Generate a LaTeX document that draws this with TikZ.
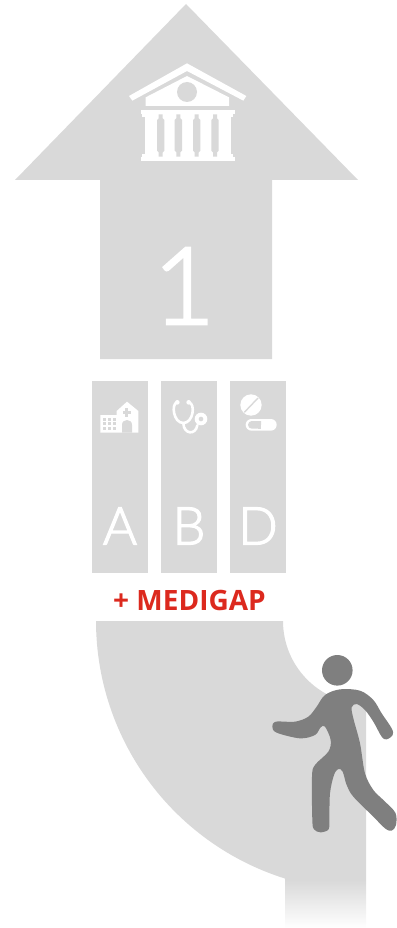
\documentclass[tikz,border=0pt]{standalone}
\usepackage{fontspec}
\usepackage{tikz}
\setmainfont{Open Sans}
\newfontfamily\thinfont[UprightFont=* Light, RawFeature={embolden=2.5}]{Lato}
\definecolor{cband}{HTML}{D9D9D9}
\definecolor{cwalker}{HTML}{7F7F7F}
\definecolor{cred}{HTML}{DC291E}

\begin{document}
\begin{tikzpicture}[
  x=1pt, y=-1pt,
  partbox/.style={fill=cband},
  partlabel/.style={text=white, font=\thinfont\fontsize{52}{52}\selectfont, inner sep=0pt},
  icon/.style={shift={(#1)}, xscale=1/3, yscale=1/3},
  pipe/.style={draw=white, line width=2.6pt, line cap=round}
]
  \useasboundingbox (0,0) rectangle (396,928);

  % Arrow
  \fill[cband] (186,4) -- (358,180) -- (272,180) -- (272,359) -- (100,359) -- (100,180) -- (15,180) -- cycle;
  \node[text=white, font=\thinfont\fontsize{107}{107}\selectfont, inner sep=0pt] (one) at (184,286) {1};

  % Bank
  \begin{scope}[icon={125,60}]
    \fill[white] (186,10) -- (364,108) -- (355,122) -- (186,33) -- (22,122) -- (12,108) -- cycle;
    \fill[white] (186,48) -- (312,112) -- (312,138) -- (62,138) -- (62,112) -- cycle;
    \fill[cband] (186,96) circle (30);
    \fill[white] (47,150) rectangle (330,163);
    \fill[white] (52,163) rectangle (325,172);
    \fill[white] (60,172) rectangle (317,281);
    \fill[white] (52,281) rectangle (325,290);
    \fill[white] (47,290) rectangle (330,303);
    \foreach \gapx in {107,160,215,270} {
      \fill[cband] (\gapx-6,163) -- (\gapx+6,163) -- (\gapx+6,175) -- (\gapx+11,180) -- (\gapx+11,272) -- (\gapx+6,277) -- (\gapx+6,290) -- (\gapx-6,290) -- (\gapx-6,277) -- (\gapx-11,272) -- (\gapx-11,180) -- (\gapx-6,175) -- cycle;
    }
  \end{scope}

  % Parts
  \fill[partbox] (92,381) rectangle (148,573);
  \fill[partbox] (161,381) rectangle (217,573);
  \fill[partbox] (230,381) rectangle (286,573);
  \node[partlabel] (parta) at (120,526) {A};
  \node[partlabel] (partb) at (189,526) {B};
  \node[partlabel] (partd) at (258,526) {D};

  % Hospital
  \begin{scope}[icon={95,395}]
    \fill[white] (16,60) -- (65,60) -- (65,48) -- (96,20) -- (130,48) -- (130,113) -- (16,113) -- cycle;
    \foreach \winx in {25,39,53} {
      \foreach \winy in {68,82,96} {
        \fill[cband] (\winx,\winy) rectangle +(9,9);
      }
    }
    \fill[cband] (81,113) -- (81,90) .. controls (81,70) and (111,70) .. (111,90) -- (111,113) -- cycle;
    \fill[cband] (91,39) rectangle (100,65);
    \fill[cband] (83,48) rectangle (108,57);
  \end{scope}

  % Stethoscope
  \begin{scope}[icon={165,392}]
    \draw[pipe] (36,31) .. controls (18,36) and (25,93) .. (55,93) .. controls (85,93) and (92,36) .. (72,31);
    \draw[pipe] (55,93) .. controls (56,128) and (92,130) .. (97,100);
    \fill[white] (37,31) circle (7);
    \fill[white] (71,31) circle (7);
    \fill[white] (108,81) circle (19);
    \fill[cband] (108,81) circle (7);
  \end{scope}

  % Pills
  \begin{scope}[icon={235,390}]
    \fill[white] (48,45) circle (32);
    \draw[cband, line width=1.4pt] (28,67) -- (69,24);
    \fill[white, rounded corners=5.8pt] (32,87) rectangle (125,122);
    \fill[cband, rounded corners=3.8pt] (78,93) -- (39,93) -- (39,116) -- (78,116) [sharp corners] -- cycle;
    \fill[cband] (68,93) rectangle (78,116);
  \end{scope}

  % Medigap
  \node[text=cred, font=\bfseries\fontsize{28}{28}\selectfont, inner sep=0pt] (medigap) at (189.5,600) {+ MEDIGAP};

  % Path
  \fill[cband] (96,621) -- plot[domain=0:72.54, samples=60] ({366-270*cos(\x)},{621+270*sin(\x)}) -- (285,880) -- (366,880) -- (366,704) -- plot[domain=90:0, samples=40] ({366-83*cos(\x)},{621+83*sin(\x)}) -- cycle;
  \shade[top color=cband, bottom color=white] (285,880) rectangle (366,928);

  % Walker
  \fill[cwalker] (337.3,670.3) circle (15.3);
  \begin{scope}[icon={250,620}]
    \fill[cwalker] plot[smooth cycle, tension=0.55] coordinates {
      (225,225) (270,208) (330,212) (370,240) (395,280) (425,325) (428,345) (410,358) (395,350) (370,305) (345,270) (320,252) (305,262) (310,295) (330,370) (345,460) (370,510) (400,540) (436,578) (438,615) (425,632) (405,625) (370,590) (310,530) (290,495) (278,455) (265,447) (252,465) (240,520) (238,600) (236,628) (212,637) (192,628) (187,600) (186,470) (195,435) (235,395) (242,360) (225,320) (212,322) (195,345) (150,355) (80,338) (67,320) (78,305) (135,305) (175,290) (200,260)
    };
  \end{scope}
\end{tikzpicture}
\end{document}
